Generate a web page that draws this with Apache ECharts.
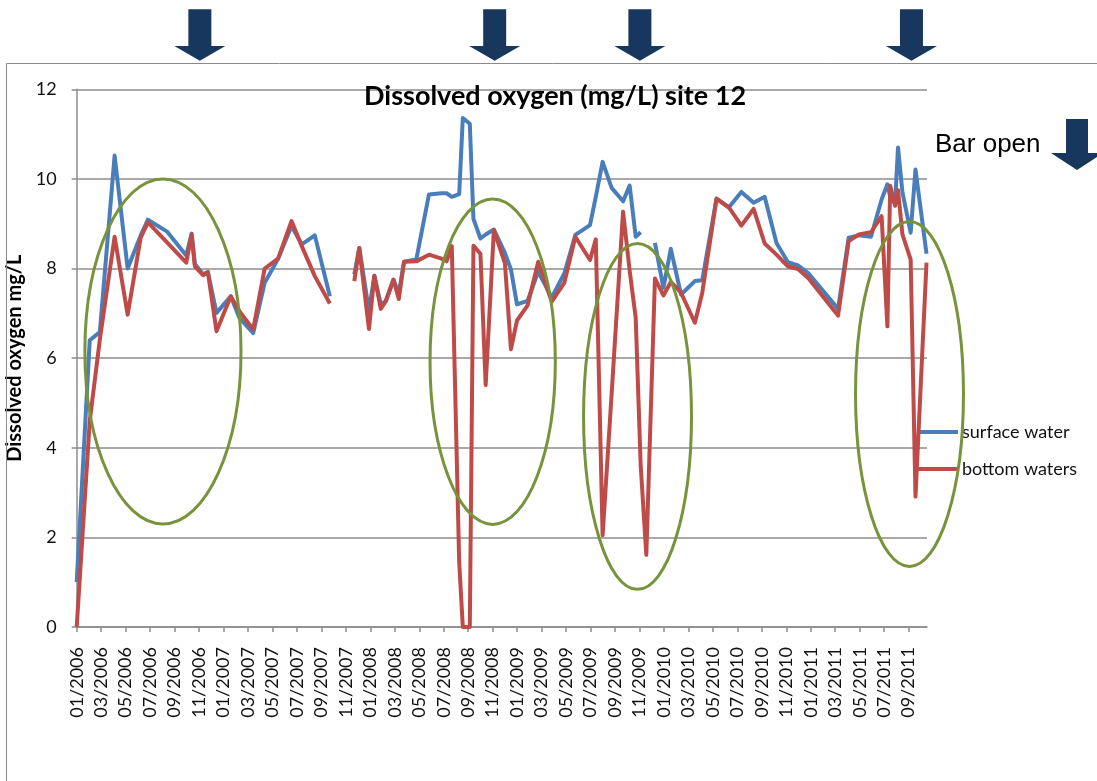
<!DOCTYPE html>
<html><head><meta charset="utf-8">
<script src="https://cdn.jsdelivr.net/npm/echarts@6/dist/echarts.min.js"></script>
<style>html,body{margin:0;padding:0;background:#fff}#c{width:1097px;height:781px}</style>
</head><body><div id="c"></div>
<script>
// ---- data ----
const dates = [
 '2006-01-01','2006-02-03','2006-02-28','2006-04-04','2006-05-06','2006-06-08','2006-06-26','2006-08-12',
 '2006-09-30','2006-10-13','2006-10-21','2006-11-11','2006-11-23','2006-12-14','2007-01-19','2007-02-10',
 '2007-03-14','2007-04-12','2007-05-15','2007-06-18','2007-07-13','2007-08-15','2007-09-22','2007-10-20',
 '2007-11-22','2007-12-04','2007-12-28','2008-01-11','2008-01-27','2008-02-09','2008-02-28','2008-03-11',
 '2008-03-24','2008-04-24','2008-05-25','2008-06-26','2008-07-08','2008-07-21','2008-08-09','2008-08-18',
 '2008-09-05','2008-09-14','2008-10-01','2008-10-14','2008-11-04','2008-12-01','2008-12-16','2008-12-31',
 '2009-01-27','2009-02-23','2009-03-26','2009-04-27','2009-05-24','2009-06-30','2009-07-14','2009-07-31',
 '2009-08-23','2009-09-21','2009-10-07','2009-10-22','2009-11-04','2009-11-18','2009-12-09','2009-12-30',
 '2010-01-18','2010-02-13','2010-03-17','2010-04-05','2010-05-10','2010-06-10','2010-07-11','2010-08-11',
 '2010-09-08','2010-10-07','2010-11-05','2010-11-30','2010-12-25','2011-03-08','2011-04-04','2011-04-29',
 '2011-05-29','2011-06-25','2011-07-09','2011-07-16','2011-07-28','2011-08-05','2011-08-16','2011-09-06',
 '2011-09-18','2011-10-15'
];
const surfaceWater = [
 1.0, 6.40, 6.58, 10.52, 8.00, 8.74, 9.09, 8.83,
 8.29, 8.78, 8.10, 7.87, 7.92, 7.01, 7.38, 6.90,
 6.56, 7.68, 8.22, 8.95, 8.54, 8.74, 7.38, null,
 7.87, 8.46, 7.05, 7.84, 7.20, 7.27, 7.75, 7.45,
 8.15, 8.20, 9.65, 9.68, 9.68, 9.60, 9.66, 11.36,
 11.23, 9.11, 8.67, 8.76, 8.87, 8.35, 7.98, 7.20,
 7.28, 7.93, 7.35, 7.89, 8.75, 8.97, 9.60, 10.38,
 9.80, 9.50, 9.85, 8.71, 8.81, null, 8.57, 7.57,
 8.44, 7.42, 7.72, 7.74, 9.56, 9.36, 9.71, 9.47,
 9.60, 8.57, 8.14, 8.07, 7.90, 7.10, 8.69, 8.74,
 8.71, 9.54, 9.88, 9.60, 9.45, 10.70, 9.70, 8.80,
 10.21, 8.33
];
const bottomWaters = [
 0, 4.6, 6.41, 8.71, 6.97, 8.69, 9.03, 8.59,
 8.13, 8.76, 8.05, 7.85, 7.92, 6.60, 7.38, 7.05,
 6.64, 8.00, 8.22, 9.06, 8.50, 7.83, 7.22, null,
 7.72, 8.46, 6.65, 7.84, 7.10, 7.27, 7.75, 7.32,
 8.15, 8.16, 8.31, 8.22, 8.16, 8.50, 1.45, 0,
 0, 8.51, 8.33, 5.40, 8.86, 8.12, 6.20, 6.84,
 7.18, 8.15, 7.26, 7.68, 8.71, 8.19, 8.65, 2.05,
 5.20, 9.27, 7.95, 6.90, 3.60, 1.61, 7.78, 7.40,
 7.70, 7.46, 6.79, 7.46, 9.56, 9.37, 8.96, 9.33,
 8.56, 8.31, 8.05, 7.99, 7.79, 6.95, 8.61, 8.76,
 8.81, 9.17, 6.71, 9.85, 9.40, 9.75, 8.76, 8.20,
 2.91, 8.13
];
const seriesNames = ['surface water', 'bottom waters'];
const yTicks = [0, 2, 4, 6, 8, 10, 12];
const barOpenDates = ['2006-11-03', '2008-11-06', '2009-11-02', '2011-09-08'];
// annotation ellipses: centre month index, centre value, half width (months), half height (mg/L)
const ellipses = [
 [7.05, 6.15, 6.38, 3.85],
 [34.0, 5.92, 5.12, 3.63],
 [45.84, 4.70, 4.41, 3.86],
 [68.07, 5.20, 4.41, 3.85]
];

// ---- helpers ----
function toMonth(s) { const [y, m, d] = s.split('-').map(Number); return (y - 2006) * 12 + (m - 1) + (d - 1) / 30.4; }
const xs = dates.map(toMonth);
const xMax = 69.5;
const font = 'Lato, "Noto Sans", sans-serif';

const chart = echarts.init(document.getElementById('c'), null, { renderer: 'canvas' });
const option = {
  animation: false,
  backgroundColor: '#fff',
  title: {
    text: 'Dissolved oxygen (mg/L) site 12', left: 364, top: 83, padding: 0,
    textStyle: { fontFamily: font, fontWeight: 'bold', fontSize: 27, color: '#000' }
  },
  grid: { left: 76.7, right: 170, top: 89.3, bottom: 154, containLabel: false, outerBoundsMode: 'none' },
  legend: {
    orient: 'vertical', left: 917, top: 423, padding: 0, itemWidth: 41, itemHeight: 4, itemGap: 19, icon: 'rect',
    textStyle: { fontFamily: font, fontSize: 18, color: '#111', padding: [0, 0, 0, -1] },
    data: seriesNames
  },
  xAxis: {
    type: 'value', min: 0, max: xMax, interval: 2,
    axisLine: { show: true, lineStyle: { color: '#8c8c8c', width: 1.5 } },
    axisTick: { show: true, length: 5, lineStyle: { color: '#8c8c8c', width: 1.5 } },
    splitLine: { show: false },
    axisLabel: {
      rotate: 90, margin: 20, fontFamily: font, fontSize: 18, color: '#111', showMaxLabel: false, showMinLabel: true,
      formatter: function (v) {
        const r = Math.round(v);
        if (Math.abs(v - r) > 1e-6 || r % 2) return '';
        const y = 2006 + Math.floor(r / 12), m = r % 12 + 1;
        return (m < 10 ? '0' : '') + m + '/' + y;
      }
    }
  },
  yAxis: {
    type: 'value', min: yTicks[0], max: yTicks[yTicks.length - 1], interval: 2,
    name: 'Dissolved oxygen mg/L', nameLocation: 'middle', nameRotate: 90, nameGap: 47,
    nameTextStyle: { fontFamily: font, fontWeight: 'bold', fontSize: 20, color: '#000' },
    axisLine: { show: true, lineStyle: { color: '#8c8c8c', width: 1.5 } },
    axisTick: { show: true, length: 5, lineStyle: { color: '#8c8c8c', width: 1.5 } },
    splitLine: { show: true, lineStyle: { color: '#8c8c8c', width: 1.5 } },
    axisLabel: { margin: 20, fontFamily: font, fontSize: 18, color: '#111' }
  },
  series: [
    {
      name: seriesNames[0], type: 'line', showSymbol: false, symbol: 'none', connectNulls: false,
      lineStyle: { color: '#4A7EBB', width: 4, join: 'round' }, itemStyle: { color: '#4A7EBB' },
      data: xs.map((x, i) => [x, surfaceWater[i]]), z: 3
    },
    {
      name: seriesNames[1], type: 'line', showSymbol: false, symbol: 'none', connectNulls: false,
      lineStyle: { color: '#BE4B48', width: 4, join: 'round' }, itemStyle: { color: '#BE4B48' },
      data: xs.map((x, i) => [x, bottomWaters[i]]), z: 4
    }
  ]
};
chart.setOption(option);

// ---- annotations ----
const navy = '#17375E';
function downArrow(cx, top, headStart, tip, shaftHalf, headHalf) {
  return {
    type: 'polygon', z: 100,
    shape: { points: [[cx - shaftHalf, top], [cx + shaftHalf, top], [cx + shaftHalf, headStart], [cx + headHalf, headStart],
      [cx, tip], [cx - headHalf, headStart], [cx - shaftHalf, headStart]] },
    style: { fill: navy }
  };
}
const graphics = [];
graphics.push({ type: 'rect', z: 1, silent: true, shape: { x: 6.5, y: 63.5, width: 1200, height: 800 },
  style: { fill: 'none', stroke: '#8a8a8a', lineWidth: 1 } });
barOpenDates.forEach(d => {
  const p = chart.convertToPixel({ gridIndex: 0 }, [toMonth(d), 0]);
  graphics.push(downArrow(p[0], 9.3, 46, 60.7, 11.5, 25.5));
});
graphics.push(downArrow(1077, 119, 153, 170, 11, 26));
graphics.push({ type: 'text', z: 100, style: { text: 'Bar open', x: 935, y: 145, verticalAlign: 'middle',
  font: '26px "Liberation Sans", Arial, sans-serif', fill: '#000' } });
ellipses.forEach(e => {
  const c = chart.convertToPixel({ gridIndex: 0 }, [e[0], e[1]]);
  const p = chart.convertToPixel({ gridIndex: 0 }, [e[0] + e[2], e[1] + e[3]]);
  graphics.push({ type: 'ellipse', z: 50, silent: true,
    shape: { cx: c[0], cy: c[1], rx: Math.abs(p[0] - c[0]), ry: Math.abs(c[1] - p[1]) },
    style: { fill: 'none', stroke: '#77933C', lineWidth: 3 } });
});
chart.setOption({ graphic: graphics });
</script></body></html>
